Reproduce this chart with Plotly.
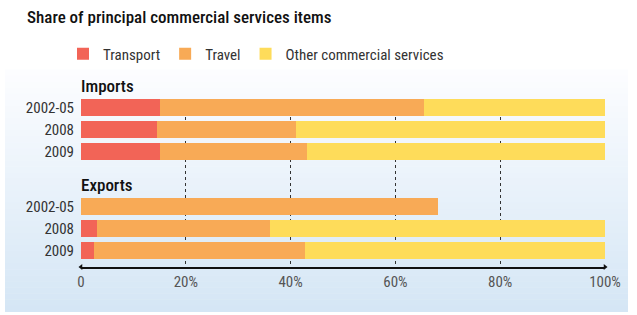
import plotly.graph_objects as go

# ---- data ----
groups = ["Imports", "Exports"]
periods = ["2002-05", "2008", "2009"]
transport_imports = [15.1, 14.5, 15.1]
travel_imports = [50.4, 26.5, 28.0]
other_imports = [34.5, 59.0, 56.9]
transport_exports = [0.0, 3.0, 2.5]
travel_exports = [68.1, 33.1, 40.2]
other_exports = [0.0, 63.9, 57.3]
x_ticks = [0, 20, 40, 60, 80, 100]
x_ticklabels = ["0", "20%", "40%", "60%", "80%", "100%"]

series = [
    ("Transport", transport_imports + transport_exports, "#F26457"),
    ("Travel", travel_imports + travel_exports, "#F8AA56"),
    ("Other commercial services", other_imports + other_exports, "#FEDC5A"),
]

# row positions: rows within a group, extra gap between groups
GROUP_GAP = 1.5
ypos = []
for gi, g in enumerate(groups):
    for pi, p in enumerate(periods):
        ypos.append(gi * (len(periods) + GROUP_GAP) + pi)
ylabels = periods * len(groups)

W, H = 637, 315
FONT = "Roboto Condensed, DejaVu Sans Condensed, sans-serif"

PL, PR, PT, PB = 81, 605, 99.3, 266.7  # plot area in px


def px_to_paper_x(px):
    return (px - PL) / (PR - PL)


def px_to_paper_y(py):
    return 1 - (py - PT) / (PB - PT)


fig = go.Figure()
for name, vals, color in series:
    fig.add_trace(go.Bar(
        y=ypos, x=vals, name=name, orientation="h",
        marker=dict(color=color, line=dict(width=0)),
        width=0.77, hoverinfo="skip",
    ))

# axis end markers
y_axis_bottom = ypos[-1] + 0.73
fig.add_trace(go.Scatter(
    x=[x_ticks[0], x_ticks[-1]], y=[y_axis_bottom, y_axis_bottom],
    mode="markers", marker=dict(symbol=["triangle-left", "triangle-right"], size=5, color="#111"),
    showlegend=False, cliponaxis=False, hoverinfo="skip",
))

# background gradient panel
shapes = []
px0, px1, py1 = 5, 628, 311
n = 40
top_rgb = (252, 253, 255)
bot_rgb = (213, 230, 245)
start = 70
for i in range(n):
    y0 = start + (py1 - start) * i / n
    y1 = start + (py1 - start) * (i + 1) / n
    t = (i + 0.5) / n
    c = tuple(int(round(top_rgb[k] + (bot_rgb[k] - top_rgb[k]) * t)) for k in range(3))
    shapes.append(dict(
        type="rect", xref="paper", yref="paper", layer="below",
        x0=px_to_paper_x(px0), x1=px_to_paper_x(px1),
        y0=px_to_paper_y(y1 + 0.5), y1=px_to_paper_y(y0),
        fillcolor="rgb(%d,%d,%d)" % c, line=dict(width=0),
    ))

annotations = []
for g, ycen in zip(groups, [86, 185]):
    annotations.append(dict(
        text=g, x=px_to_paper_x(79), xref="paper", xanchor="left",
        y=px_to_paper_y(ycen), yref="paper", yanchor="middle",
        showarrow=False, font=dict(family=FONT, size=17, color="#111", weight=500),
    ))

fig.update_layout(
    width=W, height=H,
    margin=dict(l=PL, r=W - PR, t=PT, b=H - PB, pad=0, autoexpand=False),
    paper_bgcolor="white", plot_bgcolor="rgba(0,0,0,0)",
    barmode="stack",
    title=dict(
        text="Share of principal commercial services items",
        x=27 / W, xanchor="left", xref="container",
        y=1 - 17 / H, yanchor="middle", yref="container",
        font=dict(family=FONT, size=17, color="#111", weight=500),
    ),
    legend=dict(
        orientation="h", x=px_to_paper_x(63), xanchor="left",
        y=px_to_paper_y(38), yanchor="top",
        font=dict(family=FONT, size=15, color="#333"),
        bgcolor="rgba(0,0,0,0)", traceorder="normal", itemwidth=30,
    ),
    xaxis=dict(
        range=[0, 100], tickvals=x_ticks, ticktext=x_ticklabels,
        showgrid=True, gridcolor="#333", griddash="dot", gridwidth=1,
        showline=True, linecolor="#111", linewidth=1.5,
        zeroline=False, ticks="", fixedrange=True, automargin=False,
        tickfont=dict(family=FONT, size=15, color="#555"),
    ),
    yaxis=dict(
        range=[y_axis_bottom, -0.386], tickvals=ypos, ticktext=ylabels,
        showgrid=False, zeroline=False, showline=False, ticks="", automargin=False,
        fixedrange=True,
        tickfont=dict(family=FONT, size=15, color="#333"),
        ticklabelstandoff=6,
    ),
    shapes=shapes,
    annotations=annotations,
    font=dict(family=FONT),
)

fig.write_html(
    "out.html",
    config={"displayModeBar": False, "staticPlot": True},
    post_script="document.body.style.margin='0';",
)
